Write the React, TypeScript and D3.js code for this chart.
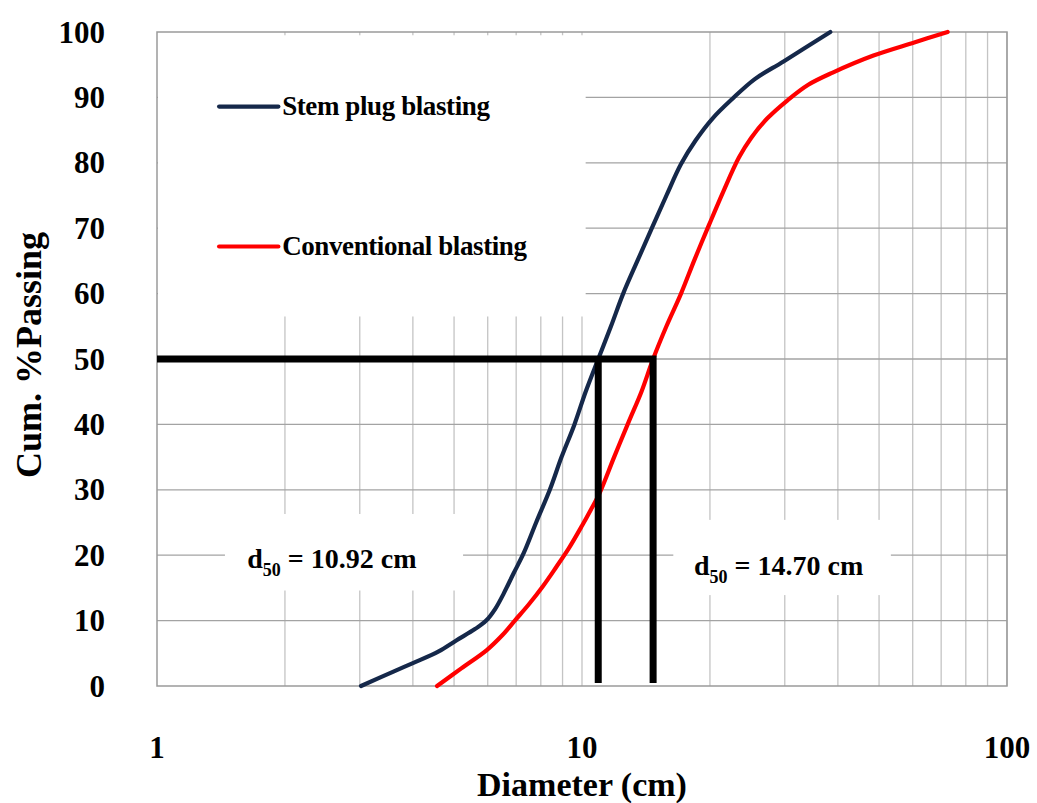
import React from 'react';
import * as d3 from 'd3';

// ---- Data ----
const stemDiameter = [3.02, 3.6, 4.0, 4.6, 5.07, 5.6, 5.95, 6.25, 6.55, 6.9, 7.29, 7.8, 8.4, 8.95, 9.6, 10.2, 10.92, 11.7, 12.5, 13.5, 14.6, 15.8, 17.1, 18.5, 20.3, 22.6, 25.5, 29.8, 38.4];
const stemPassing = [0, 2.2, 3.5, 5.3, 7.0, 8.7, 10, 11.8, 14.2, 17.2, 20.3, 25, 30, 35, 40, 45, 50, 55, 60, 65, 70, 75, 79.8, 83.4, 86.8, 89.8, 92.8, 95.5, 100];

const convDiameter = [4.56, 5.2, 5.97, 6.5, 6.95, 7.5, 8.1, 8.7, 9.3, 10.0, 10.5, 11.0, 11.9, 12.9, 13.8, 14.7, 15.8, 17.1, 18.4, 19.9, 21.5, 23.4, 25.0, 27.3, 30.5, 34.0, 38.9, 48.5, 60.5, 72.5];
const convPassing = [0, 2.7, 5.5, 7.8, 10, 12.5, 15.3, 18.2, 21, 24.5, 27, 29.5, 35, 40.5, 45, 50, 55, 60, 65.2, 70.5, 75.6, 80.8, 83.8, 86.8, 89.6, 91.9, 93.8, 96.4, 98.4, 100];

const seriesNames = ['Stem plug blasting', 'Conventional blasting'];
const seriesColors = ['#15284a', '#ff0000'];

const d50Values = [10.92, 14.70];
const d50Labels = ['10.92 cm', '14.70 cm'];
const d50Level = 50;

const xTickLabels = [1, 10, 100];
const yTickLabels = [0, 10, 20, 30, 40, 50, 60, 70, 80, 90, 100];

const W = 1037;
const H = 803;
const M = { left: 157, right: 30, top: 32, bottom: 117 };

export default function App() {
  const x = d3.scaleLog().domain([1, 100]).range([M.left, W - M.right]);
  const y = d3.scaleLinear().domain([0, 100]).range([H - M.bottom, M.top]);

  const minorX: number[] = [];
  for (let dec = 1; dec < 100; dec *= 10) {
    for (let k = 2; k <= 9; k++) minorX.push(dec * k);
  }
  minorX.push(10, 100);

  const line = d3
    .line<[number, number]>()
    .x((d) => x(d[0]))
    .y((d) => y(d[1]))
    .curve(d3.curveCatmullRom.alpha(0.5));

  const stemPts = stemDiameter.map((d, i) => [d, stemPassing[i]] as [number, number]);
  const convPts = convDiameter.map((d, i) => [d, convPassing[i]] as [number, number]);

  const font = '"Liberation Serif", "Times New Roman", serif';

  // white boxes (legend and annotation boxes) covering gridlines
  const legendBox = { x0: x(1) + 1, x1: x(10.2), y0: y(99.5), y1: y(56.5) };
  const box1 = { x0: x(1.445), x1: x(5.25), y0: y(26.3), y1: y(14.6) };
  const box2 = { x0: x(16.4), x1: x(53.3), y0: y(25.4), y1: y(13.9) };

  const yBottom = y(0.45);

  return (
    <svg
      width={W}
      height={H}
      style={{ position: 'absolute', left: 0, top: 0, background: '#fff' }}
      fontFamily={font}
    >
      <rect x={0} y={0} width={W} height={H} fill="#fff" />
      {/* vertical gridlines */}
      {minorX.map((v, i) => (
        <line key={'vx' + i} x1={x(v)} x2={x(v)} y1={y(100)} y2={y(0)} stroke="#c4c4c4" strokeWidth={1.3} />
      ))}
      {/* horizontal gridlines */}
      {yTickLabels.slice(1, -1).map((v) => (
        <line key={'hy' + v} x1={x(1)} x2={x(100)} y1={y(v)} y2={y(v)} stroke="#a3a3a3" strokeWidth={1.3} />
      ))}
      {/* white boxes */}
      {[legendBox, box1, box2].map((b, i) => (
        <rect key={'box' + i} x={b.x0} y={b.y0} width={b.x1 - b.x0} height={b.y1 - b.y0} fill="#fff" />
      ))}
      {/* plot border */}
      <rect x={x(1)} y={y(100)} width={x(100) - x(1)} height={y(0) - y(100)} fill="none" stroke="#9a9a9a" strokeWidth={1.5} />

      {/* curves */}
      <path d={line(stemPts) || ''} fill="none" stroke={seriesColors[0]} strokeWidth={4.2} strokeLinecap="round" strokeLinejoin="round" />
      <path d={line(convPts) || ''} fill="none" stroke={seriesColors[1]} strokeWidth={4.2} strokeLinecap="round" strokeLinejoin="round" />

      {/* d50 construction lines */}
      <path
        d={`M${x(1)},${y(d50Level)}H${x(d50Values[1])}V${yBottom}`}
        fill="none"
        stroke="#000"
        strokeWidth={7}
        strokeLinejoin="miter"
      />
      <line x1={x(d50Values[0])} x2={x(d50Values[0])} y1={y(d50Level)} y2={yBottom} stroke="#000" strokeWidth={7} />

      {/* legend */}
      {seriesNames.map((name, i) => {
        const ly = i === 0 ? y(88.6) : y(67.2);
        return (
          <g key={name}>
            <line x1={x(1.4)} x2={x(1.93)} y1={ly} y2={ly} stroke={seriesColors[i]} strokeWidth={4.2} strokeLinecap="round" />
            <text x={x(1.97)} y={ly + 8} fontSize={27} fontWeight="bold" letterSpacing={-0.4}>
              {name}
            </text>
          </g>
        );
      })}

      {/* d50 annotation texts */}
      {d50Labels.map((lab, i) => {
        const tx = i === 0 ? x(1.63) : x(18.35);
        const ty = i === 0 ? y(18.0) : y(17.0);
        return (
          <text key={lab} x={tx} y={ty} fontSize={28} fontWeight="bold">
            d
            <tspan fontSize={18} dy={8}>50</tspan>
            <tspan dy={-8}>{' = ' + lab}</tspan>
          </text>
        );
      })}

      {/* y tick labels */}
      {yTickLabels.map((v) => (
        <text key={'yt' + v} x={105} y={y(v)} dy="0.34em" textAnchor="end" fontSize={31} fontWeight="bold">
          {v}
        </text>
      ))}
      {/* x tick labels */}
      {xTickLabels.map((v) => (
        <text key={'xt' + v} x={x(v)} y={758} textAnchor="middle" fontSize={31} fontWeight="bold">
          {v}
        </text>
      ))}

      {/* axis titles */}
      <text x={x(10)} y={796} textAnchor="middle" fontSize={34} fontWeight="bold">
        Diameter (cm)
      </text>
      <text
        transform={`translate(41,355) rotate(-90)`}
        textAnchor="middle"
        fontSize={36}
        fontWeight="bold"
      >
        Cum. %Passing
      </text>
    </svg>
  );
}
